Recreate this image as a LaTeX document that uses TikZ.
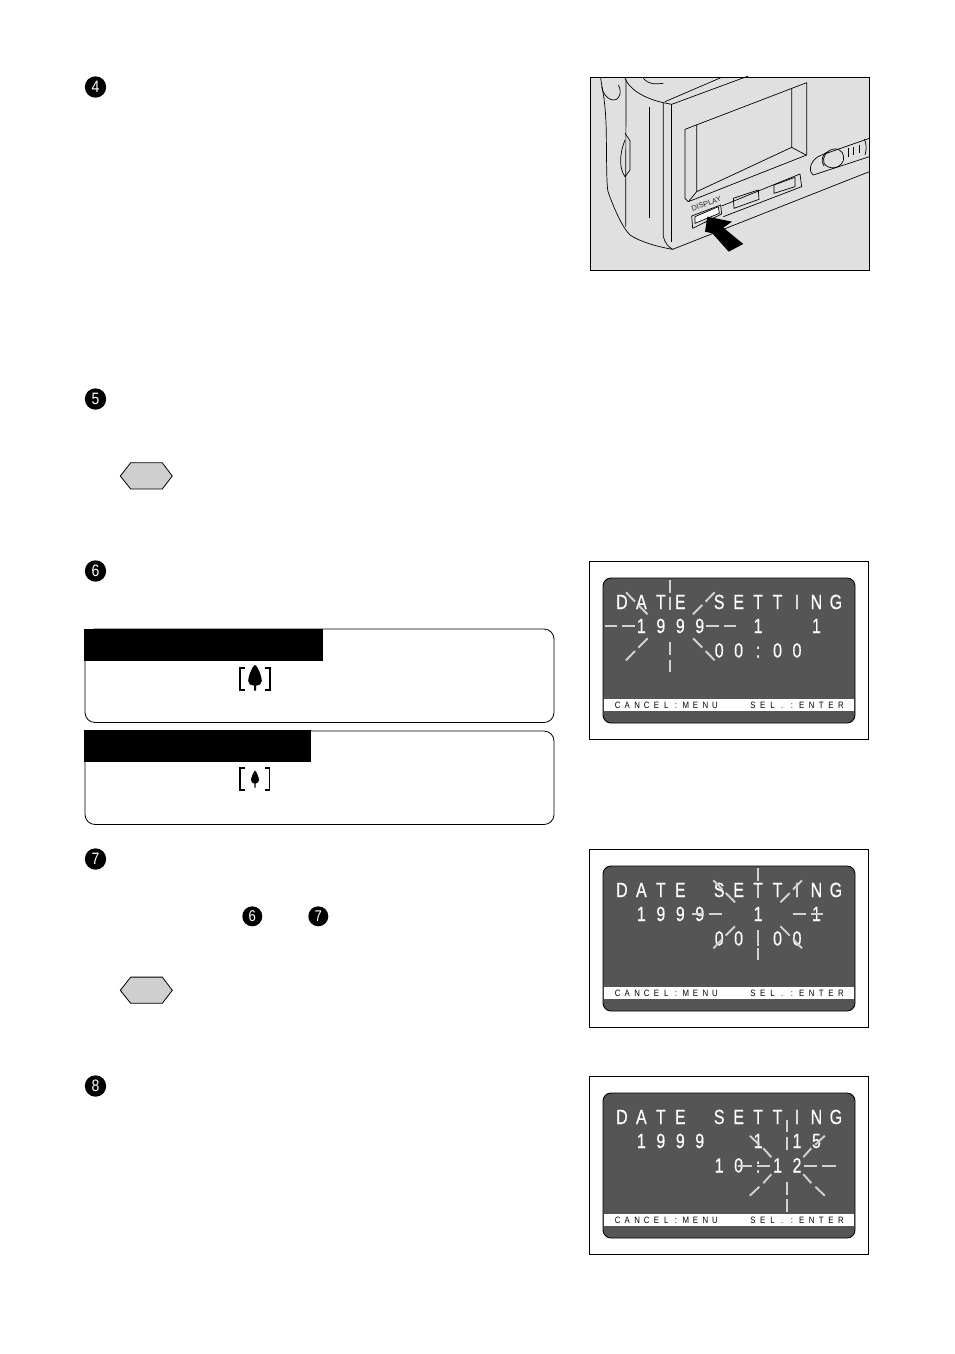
\documentclass[tikz,border=0pt]{standalone}
\usepackage{graphicx}
\usepackage{fontspec}
\setmainfont{Liberation Sans}
\newfontfamily\lcdfont[FakeBold=.5]{Liberation Sans}
\definecolor{lcd}{HTML}{555555}
\definecolor{ray}{HTML}{D2D2D2}
\definecolor{camgray}{HTML}{E0E0E0}
\definecolor{hexgray}{HTML}{CFCFCF}
\makeatletter
\newcommand\pit[2]{\@tfor\pit@c:=#2\do{\makebox[#1][c]{\pit@c}}}
\makeatother
\newcommand\bigrow[1]{\lcdfont\fontsize{20.5pt}{20.5pt}\selectfont\scalebox{.78}[1]{\pit{24.94pt}{#1}}}
\newcommand\smallrow[1]{\fontsize{9.2pt}{9.2pt}\selectfont\scalebox{.85}[1]{\pit{11.47pt}{#1}}}
% h1..h4: horizontal rays; d1..d4: diagonal x extents; e1..e4: diagonal y extents
\newcommand\burst[2]{\def\bx{#1}\def\by{#2}\burstrays}
\newcommand\burstrays[8]{\burstdraw{#1}{#2}{#3}{#4}{#5}{#6}{#7}{#8}}
\newcommand\burstdraw[8]{%
  \begin{scope}[shift={(\bx,\by)}]
    \foreach \dy in {1,-1}{
      \draw[rayline] (0,16*\dy) -- (0,29*\dy);
      \draw[rayline] (0,33.7*\dy) -- (0,46*\dy);}
    \foreach \dx in {1,-1}{
      \draw[rayline] (#1*\dx,0) -- (#2*\dx,0);
      \draw[rayline] (#3*\dx,0) -- (#4*\dx,0);
      \foreach \dy in {1,-1}{
        \draw[rayline] (#5*\dx,\ea*\dy) -- (#6*\dx,\eb*\dy);
        \draw[rayline] (#7*\dx,\ec*\dy) -- (#8*\dx,\ed*\dy);}}
  \end{scope}}
\newcommand\lcdscreen[5]{% name, y shift, row2, row3, burst code
  \begin{scope}[yshift=-#2pt]
    \draw[framebox] (589,561) rectangle (868.5,739.5);
    \draw[lcdbody] (603,578) rectangle (855,723);
    \fill[white] (604,699) rectangle (854,711);
    \node[rowtext] (#1t) at (612,609) {\bigrow{DATE~SETTING}};
    \node[rowtext] (#1d) at (612,633) {\bigrow{#3}};
    \node[rowtext] (#1h) at (612,657.5) {\bigrow{#4}};
    \node[bartext] (#1c) at (612.5,708) {\smallrow{CANCEL:MENU}};
    \node[bartext] (#1e) at (748,708) {\smallrow{SEL.:ENTER}};
    #5
  \end{scope}}
\tikzset{
  rayline/.style={draw=ray,line width=1.9pt},
  framebox/.style={draw=black,line width=.9pt,fill=white},
  lcdbody/.style={draw=black,line width=.9pt,fill=lcd,rounded corners=8pt},
  rowtext/.style={anchor=base west,inner sep=0pt,text=white},
  bartext/.style={anchor=base west,inner sep=0pt,text=black},
  stepnum/.style={circle,fill=black,minimum size=21.4pt,inner sep=0pt,text=white,font=\fontsize{16.5pt}{16.5pt}\selectfont},
  stepsmall/.style={stepnum,minimum size=20pt,font=\fontsize{15.5pt}{15.5pt}\selectfont},
  hexmark/.style={draw=black,line width=.8pt,fill=hexgray},
  notebox/.style={draw=black,line width=.8pt,rounded corners=10pt,fill=white},
  camline/.style={draw=black,line width=.7pt,line join=round},
  focusmark/.style={draw=black,line width=1.6pt},
}
\begin{document}
\begin{tikzpicture}[x=1pt,y=-1pt]
\useasboundingbox (0,0) rectangle (954,1354);
\fill[white] (0,0) rectangle (954,1354);

% step numbers
\node[stepnum] (s4) at (95.5,87) {\scalebox{.85}[1]{4}};
\node[stepnum] (s5) at (95.5,399) {\scalebox{.85}[1]{5}};
\node[stepnum] (s6) at (95.5,571) {\scalebox{.85}[1]{6}};
\node[stepnum] (s7) at (95.5,859) {\scalebox{.85}[1]{7}};
\node[stepnum] (s8) at (95.5,1086) {\scalebox{.85}[1]{8}};
\node[stepsmall] (r6) at (252.3,916.3) {\scalebox{.85}[1]{6}};
\node[stepsmall] (r7) at (318.3,916.3) {\scalebox{.85}[1]{7}};

% hexagon marks
\foreach \yy in {476,990.3}{
  \draw[hexmark] (120.3,\yy) -- (130.7,\yy-13.2) -- (162.3,\yy-13.2) -- (172.3,\yy) -- (162.3,\yy+13) -- (130.7,\yy+13) -- cycle;}

% note boxes
\draw[notebox] (85,629) rectangle (554,722.5);
\fill[black] (84,629) rectangle (323,661);
\draw[notebox] (85,731) rectangle (554,824.5);
\fill[black] (84,730) rectangle (311,762);

% focus marks
\draw[focusmark] (245,668.2) -- (239.9,668.2) -- (239.9,690.2) -- (245,690.2);
\draw[focusmark] (265,668.2) -- (270.2,668.2) -- (270.2,690.2) -- (265,690.2);
\fill[black] (255,665) .. controls (258,666) and (261.8,677) .. (261.8,681) .. controls (261.8,684) and (259,685.7) .. (256,685.7)
  -- (256,690.7) -- (254,690.7) -- (254,685.7) .. controls (251,685.7) and (248.2,684) .. (248.2,681) .. controls (248.2,677) and (252,666) .. (255,665) -- cycle;
\draw[focusmark] (245,767.7) -- (239.9,767.7) -- (239.9,790.2) -- (245,790.2);
\draw[focusmark] (265,767.7) -- (269.6,767.7) -- (269.6,790.2) -- (265,790.2);
\fill[black] (255,770.7) .. controls (256.5,771) and (259,778) .. (259,780) .. controls (259,782) and (257.5,783.3) .. (255.7,783.5)
  -- (255.7,787.7) -- (254.3,787.7) -- (254.3,783.5) .. controls (252.5,783.3) and (251,782) .. (251,780) .. controls (251,778) and (253.5,771) .. (255,770.7) -- cycle;

% camera illustration
\draw[draw=black,line width=.9pt,fill=camgray] (590.5,77.5) rectangle (869.5,270);
\begin{scope}[shift={(580,70)},x=.33333pt,y=-.33333pt]
  % body silhouette
  \draw[camline] (62,24) .. controls (66,60) and (78,90) .. (79,200) .. controls (80,300) and (80,345) .. (84,365)
    .. controls (100,410) and (125,470) .. (150,495) .. controls (180,515) and (230,530) .. (278,538) -- (868,305);
  \draw[camline] (65,50) .. controls (72,90) and (112,105) .. (120,72) .. controls (122,60) and (118,50) .. (115,45);
  \draw[camline] (135,24) .. controls (145,55) and (190,85) .. (250,98) -- (250,500) .. controls (255,520) and (265,530) .. (278,538);
  \draw[camline] (138,28) -- (137,470);
  \draw[camline] (207,112) -- (207,445);
  \draw[camline] (135,190) -- (150,212) -- (150,300) -- (135,320) .. controls (120,300) and (115,260) .. (135,210);
  \draw[camline] (190,24) .. controls (205,45) and (225,42) .. (250,40);
  \draw[camline] (255,95) -- (425,22);
  \draw[camline] (275,103) -- (505,18);
  \draw[camline] (275,103) -- (275,515);
  \draw[camline] (250,98) -- (275,103);
  % LCD
  \draw[camline] (315,178) -- (680,38) -- (680,255) -- (325,395) -- (315,385) -- cycle;
  \draw[camline] (350,165) -- (350,365) -- (635,232) -- (635,55);
  \draw[camline] (635,232) -- (678,255);
  \draw[camline] (350,365) -- (325,395);
  % button strip
  \draw[camline] (425,408) -- (660,312) -- (665,350) -- (430,440);
  \draw[camline] (460,385) -- (535,360) -- (537,388) -- (462,415) -- cycle;
  \draw[camline] (582,345) -- (645,322) -- (645,350) -- (582,370) -- cycle;
  \draw[camline,line width=.7pt] (335,438) -- (422,405) -- (425,432) -- (338,475) -- cycle;
  \draw[camline,fill=white] (345,440) -- (415,410) -- (418,430) -- (345,460) -- cycle;
  \node[rotate=20,inner sep=0pt,text=black!85,font=\fontsize{7.5pt}{7.5pt}\selectfont] (disp) at (379,401) {DISPLAY};
  % slider
  \draw[camline] (868,205) -- (725,255) .. controls (695,265) and (680,300) .. (700,315) -- (868,260);
  \draw[camline] (762,237) .. controls (785,235) and (795,255) .. (790,272) .. controls (780,298) and (745,300) .. (732,280) .. controls (725,262) and (740,240) .. (762,237) -- cycle;
  \draw[camline] (745,245) .. controls (725,250) and (722,275) .. (732,288);
  \draw[camline] (805,235) -- (805,260);
  \draw[camline] (820,230) -- (820,255);
  \draw[camline] (838,225) -- (838,250);
  \draw[camline] (853,208) .. controls (860,220) and (860,240) .. (855,255);
  % arrow
  \fill[black] (382,440) -- (456,455) -- (430,473) -- (490,522) -- (446,545) -- (397,490) -- (375,485) -- cycle;
\end{scope}

% screens
\def\ea{12}\def\eb{21.3}\def\ec{24.7}\def\ed{34}
\lcdscreen{a}{0}{~1999~~1~~1~}{~~~~~00:00~~}{\burst{670.3}{626.3}{35.3}{48.7}{53.7}{65.3}{22.7}{32}{35.3}{44.3}}
\lcdscreen{b}{288}{~1999~~1~~1~}{~~~~~00:00~~}{\burst{757.7}{626.3}{35.3}{48.7}{53.7}{65.3}{22.7}{32}{35.3}{44.3}}
\def\ea{8.5}\def\eb{17.5}\def\ec{21}\def\ed{30}
\lcdscreen{c}{515}{~1999~~1~15~}{~~~~~10:12~~}{\burst{787.3}{650.7}{17}{30}{35}{49}{16}{24}{28}{37.5}}
\end{tikzpicture}
\end{document}
